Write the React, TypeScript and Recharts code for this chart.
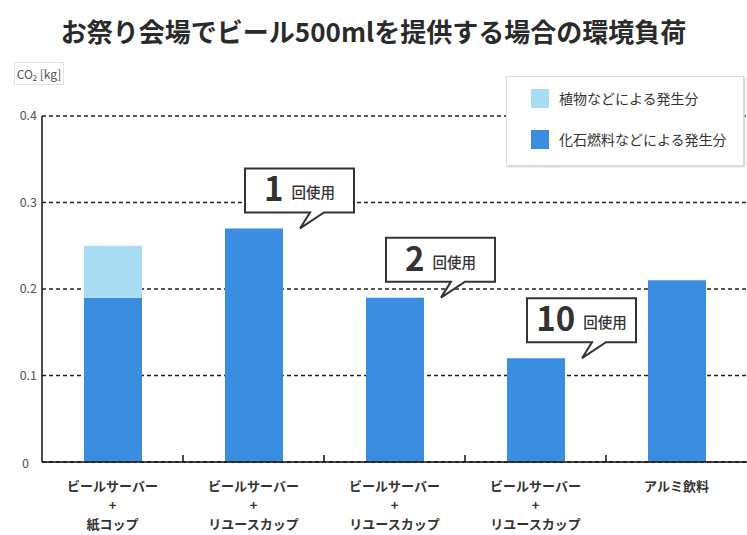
import React from 'react';
import { BarChart, Bar, XAxis, YAxis, CartesianGrid, Legend, LabelList } from 'recharts';

const categories = [
  'ビールサーバー\n+\n紙コップ',
  'ビールサーバー\n+\nリユースカップ',
  'ビールサーバー\n+\nリユースカップ',
  'ビールサーバー\n+\nリユースカップ',
  'アルミ飲料',
];
const fossilValues = [0.19, 0.27, 0.19, 0.12, 0.21];
const plantValues = [0.06, 0, 0, 0, 0];
const useCounts = ['', '1', '2', '10', ''];
const yTicks = [0, 0.1, 0.2, 0.3, 0.4];

const title = 'お祭り会場でビール500mlを提供する場合の環境負荷';
const yUnit = 'CO₂ [kg]';
const seriesNames = { plant: '植物などによる発生分', fossil: '化石燃料などによる発生分' };
const useSuffix = '回使用';

const data = categories.map((c, i) => ({
  name: c,
  fossil: fossilValues[i],
  plant: plantValues[i],
  uses: useCounts[i],
}));

const FONT = '"Noto Sans CJK JP", "Noto Sans", sans-serif';
const FOSSIL = '#3b8de0';
const PLANT = '#a8dcf2';

const XTick = (props: any) => {
  const { x, y, payload, index } = props;
  const lines = String(payload.value).split('\n');
  const half = payload.offset ?? 0;
  return (
    <g>
      {index < categories.length - 1 && (
        <line x1={x + half} x2={x + half} y1={y} y2={y - 7} stroke="#111" strokeWidth={1.5} />
      )}
      {lines.map((l, i) => (
        <text key={i} x={x} y={y + 29 + i * 19} textAnchor="middle" fontFamily={FONT} fontSize={13} fontWeight={700} fill="#333">
          {l}
        </text>
      ))}
    </g>
  );
};

const YTick = (props: any) => {
  const { x, y, payload } = props;
  const isZero = payload.value === 0;
  return (
    <text x={isZero ? x - 8 : x} y={y + (isZero ? 6 : 4)} textAnchor="end" fontFamily={FONT} fontSize={12.5} fill="#555">
      {payload.value === 0 ? '0' : payload.value.toFixed(1)}
    </text>
  );
};

const Callout = (props: any) => {
  const { x, y, width, value } = props;
  if (!value) return null;
  const tx = x + width + 17;
  const ty = y;
  const left = tx - 55;
  const right = tx + 54;
  const bottom = ty - 16;
  const top = bottom - 44;
  const d = `M${left},${top} H${right} V${bottom} H${tx + 24} L${tx},${ty} L${tx + 10},${bottom} H${left} Z`;
  return (
    <g>
      <path d={d} fill="#fff" stroke="#333" strokeWidth={2} strokeLinejoin="miter" />
      <text x={(left + right) / 2} y={top + 33} textAnchor="middle" fontFamily={FONT} fill="#333">
        <tspan fontSize={33} fontWeight={700}>{value}</tspan>
        <tspan fontSize={14.5} dx={8} fontWeight={500} dy={-3}>{useSuffix}</tspan>
      </text>
    </g>
  );
};

const LegendBox = () => (
  <div
    style={{
      width: 238,
      height: 90,
      background: '#fff',
      border: '1px solid #ddd',
      boxShadow: '1px 1px 2px #ccc',
      boxSizing: 'border-box',
      position: 'relative',
      fontFamily: FONT,
      fontSize: 14,
      color: '#333',
    }}
  >
    {[
      { color: PLANT, label: seriesNames.plant, top: 11 },
      { color: FOSSIL, label: seriesNames.fossil, top: 52 },
    ].map((it) => (
      <div key={it.label} style={{ position: 'absolute', left: 24, top: it.top, display: 'flex', alignItems: 'center' }}>
        <div style={{ width: 18, height: 19, background: it.color }} />
        <span style={{ marginLeft: 10 }}>{it.label}</span>
      </div>
    ))}
  </div>
);

export default function App() {
  return (
    <div style={{ position: 'absolute', left: 0, top: 0, width: 747, height: 535, background: '#fff' }}>
      <div
        style={{
          position: 'absolute',
          left: 0,
          top: 13,
          width: 747,
          textAlign: 'center',
          fontFamily: FONT,
          fontWeight: 700,
          fontSize: 26,
          color: '#2a2a2a',
          lineHeight: '36px',
          zIndex: 2,
        }}
      >
        {title}
      </div>
      <div
        style={{
          position: 'absolute',
          left: 14,
          top: 62,
          width: 50,
          height: 23,
          border: '1px solid #e2e2e2',
          boxSizing: 'border-box',
          fontFamily: FONT,
          fontSize: 12,
          color: '#555',
          lineHeight: '21px',
          textAlign: 'center',
          zIndex: 2,
        }}
      >
        {yUnit}
      </div>
      <BarChart
        width={747}
        height={535}
        data={data}
        margin={{ top: 116, right: 0, bottom: 0, left: 0 }}
        barSize={58}
      >
        <CartesianGrid vertical={false} stroke="#222" strokeDasharray="4 3" strokeWidth={1.3} />
        <XAxis
          dataKey="name"
          height={73}
          interval={0}
          tickSize={0}
          tickMargin={0}
          tickLine={false}
          axisLine={{ stroke: '#111', strokeWidth: 1.5 }}
          tick={<XTick />}
        />
        <YAxis
          width={42}
          domain={[0, 0.4]}
          ticks={yTicks}
          tickSize={0}
          tickMargin={5}
          tickLine={false}
          axisLine={{ stroke: '#111', strokeWidth: 1.5 }}
          tick={<YTick />}
        />
        <Legend
          layout="horizontal"
          verticalAlign="middle"
          align="center"
          content={<LegendBox />}
          wrapperStyle={{ position: 'absolute', left: 506, top: 76, width: 238, height: 90 }}
        />
        <Bar dataKey="fossil" stackId="a" fill={FOSSIL} name={seriesNames.fossil} isAnimationActive={false}>
          <LabelList dataKey="uses" content={<Callout />} />
        </Bar>
        <Bar dataKey="plant" stackId="a" fill={PLANT} name={seriesNames.plant} isAnimationActive={false} />
      </BarChart>
    </div>
  );
}
